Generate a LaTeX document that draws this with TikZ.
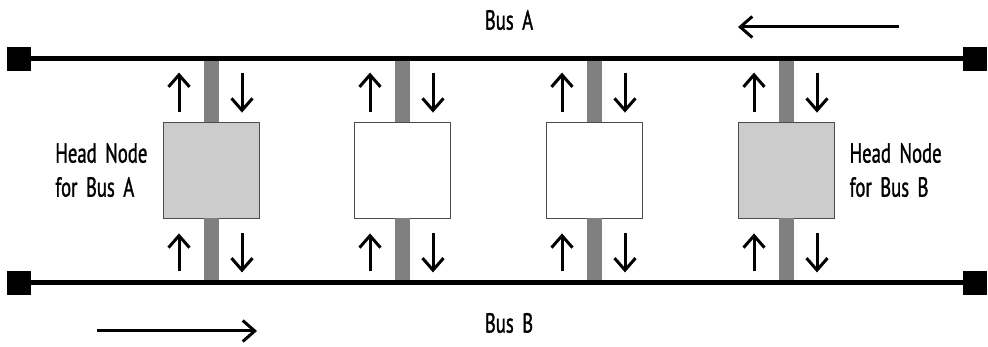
\documentclass[tikz,border=0pt]{standalone}
\usepackage{fontspec}
\setmainfont{PT Sans}[FakeStretch=0.68, FakeBold=1.2, WordSpace=1.7]
\usetikzlibrary{arrows.meta,positioning,calc}

\begin{document}
\begin{tikzpicture}[
  x=1pt, y=-1pt,                     % pixel-like units, y pointing down
  every node/.style={inner sep=1pt, font=\fontsize{27.5}{34}\selectfont},
  >={Straight Barb[length=12pt,width=21pt]},
  term/.style={fill=black, minimum size=24pt, inner sep=0pt},
  station/.style={draw=black!70, line width=0.8pt, fill=white, minimum size=96pt, inner sep=0pt},
  headstation/.style={station, fill=gray!40},
  bus/.style={line width=5pt},
  stub/.style={draw=gray, line width=15pt},
  flow/.style={->, line width=3pt}
]
\useasboundingbox (0,0) rectangle (988,347);

% bus terminators
\node[term] (ta1) at (19,59) {};
\node[term] (ta2) at (975,59) {};
\node[term] (tb1) at (19,283) {};
\node[term] (tb2) at (975,283) {};

% stations on the dual bus
\node[headstation] (headA) at (211,170) {};
\node[station]     (mid1)  at (402,170) {};
\node[station]     (mid2)  at (594,170) {};
\node[headstation] (headB) at (786,170) {};

\foreach \s in {headA,mid1,mid2,headB}{
  \draw[stub] (\s.north) -- (\s.north |- ta1);
  \draw[stub] (\s.south) -- (\s.south |- tb1);
  \draw[flow] ($(\s.north)+(-32,-10)$) -- ++(0,-39);
  \draw[flow] ($(\s.north)+(31,-49)$) -- ++(0,40);
  \draw[flow] ($(\s.south)+(-32,53)$) -- ++(0,-38);
  \draw[flow] ($(\s.south)+(31,15)$) -- ++(0,39);
}

\draw[bus] (ta1) -- (ta2);
\draw[bus] (tb1) -- (tb2);

% labels
\node (busA) at (509,20) {Bus A};
\node (busB) at (509,323) {Bus B};
\node[align=left, left=14pt of headA] (labA) {Head Node\\for Bus A};
\node[align=left, right=14pt of headB] (labB) {Head Node\\for Bus B};

% direction of traffic
\coordinate (dirA) at (899,27);
\coordinate (dirB) at (97,331);
\draw[flow] (dirA) -- ++(-161,0);
\draw[flow] (dirB) -- ++(160,0);
\end{tikzpicture}
\end{document}
